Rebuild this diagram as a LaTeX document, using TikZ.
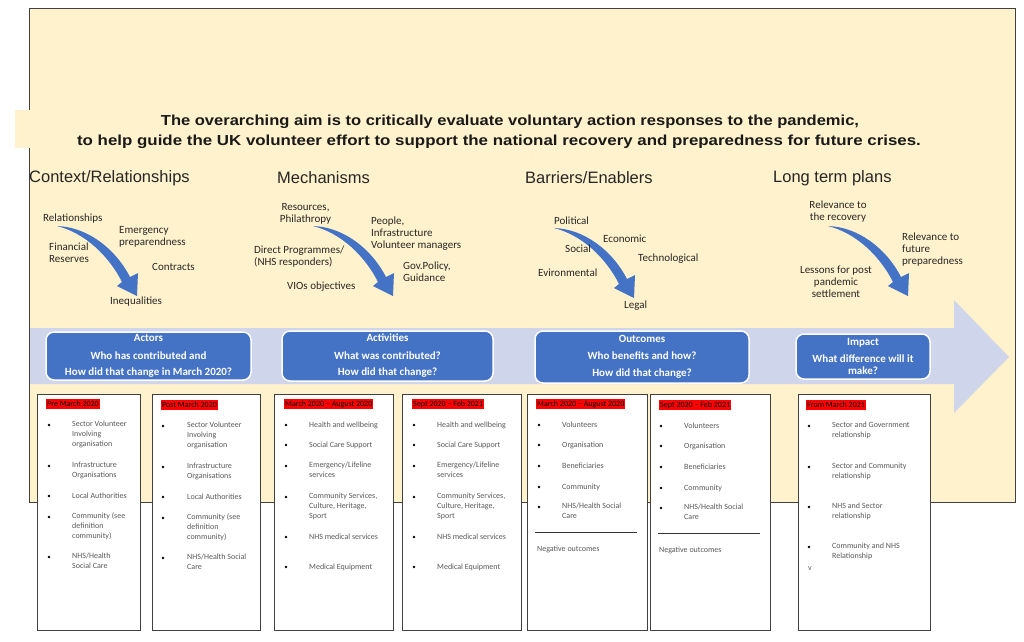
\documentclass[tikz,border=0pt]{standalone}
\usepackage{fontspec}
\usepackage{graphicx}
\setmainfont{Liberation Sans}
\newfontfamily\carl{Carlito}
\definecolor{cream}{HTML}{FFF2CC}
\definecolor{bandc}{HTML}{CFD5EA}
\definecolor{oblue}{HTML}{4472C4}
\definecolor{framec}{HTML}{404040}
\definecolor{labcol}{HTML}{262626}
\definecolor{itemc}{HTML}{595959}
\newcommand\curvarr[2]{\fill[arrb,shift={(#1,#2)}] (0,0) .. controls (30,1) and (58,22) .. (73,51) -- (81,47) -- (80,70) -- (60,60) -- (65,56) .. controls (52,30) and (28,7) .. (0,0) -- cycle;}
\newcommand\bitem[5]{\node[bdot] (#1d) at (#2,#4) {}; \node[itm] (#1) at (#3,#4) {#5};}
\begin{document}
\begin{tikzpicture}[x=1pt,y=-1pt,
 lab/.style={anchor=north west, inner sep=0pt, align=left, yshift=4.9pt, font=\carl\fontsize{11}{12}\selectfont, text=labcol, execute at begin node=\strut},
 labctr/.style={lab, anchor=north, align=center},
 colhead/.style={anchor=west, inner sep=0pt, font=\fontsize{16.5}{19}\selectfont, text=labcol},
 ttl/.style={inner sep=0pt, font=\bfseries\fontsize{14.5}{17}\selectfont, text=black!90},
 bluebox/.style={draw=white, line width=1.5pt, fill=oblue, rounded corners=8pt, inner sep=0pt},
 boxtxt/.style={align=center, inner sep=0pt, text=white, font=\carl\bfseries\fontsize{11}{12}\selectfont},
 wbox/.style={draw=framec, line width=1pt, fill=white, anchor=north west, inner sep=0pt},
 hl/.style={fill=red, anchor=west, inner xsep=1pt, inner ysep=0pt, minimum height=10pt, font=\carl\fontsize{8}{10}\selectfont},
 bdot/.style={circle, fill=black, inner sep=0pt, minimum size=2.6pt},
 itm/.style={anchor=north west, inner sep=0pt, align=left, yshift=4.5pt, font=\carl\fontsize{8}{10}\selectfont, text=itemc, execute at begin node=\strut},
 arrb/.style={fill=oblue},
 rulec/.style={draw=black!80, line width=0.8pt}
]
\useasboundingbox (0,0) rectangle (1024,641);
\fill[white] (0,0) rectangle (1024,641);
% background panel
\draw[draw=framec, line width=1pt, fill=cream] (29,8) rectangle (1015,502);
\fill[cream] (15,110) rectangle (1000,148);
% title
\node[ttl] (t1) at (510,122) {\scalebox{1.14}[1]{The overarching aim is to critically evaluate voluntary action responses to the pandemic,}};
\node[ttl] (t2) at (499,142) {\scalebox{1.165}[1]{to help guide the UK volunteer effort to support the national recovery and preparedness for future crises.}};
% column headings
\node[colhead] (c1) at (29,178) {Context/Relationships};
\node[colhead] (c2) at (277,178) {Mechanisms};
\node[colhead] (c3) at (525,178) {Barriers/Enablers};
\node[colhead] (c4) at (773,178) {Long term plans};
% curved arrows
\curvarr{57}{226}
\curvarr{313}{226}
\curvarr{554}{228}
\curvarr{828}{226}
% labels column 1
\node[lab] (l11) at (43,218) {Relationships};
\node[lab] (l12) at (119,231) {Emergency\\preparendness};
\node[lab] (l13) at (49,248) {Financial\\Reserves};
\node[lab] (l14) at (152,267) {Contracts};
\node[lab] (l15) at (110,301) {Inequalities};
% labels column 2
\node[labctr] (l21) at (305.5,208) {Resources,\\Philathropy};
\node[lab] (l22) at (371,222) {People,\\Infrastructure\\Volunteer managers};
\node[lab] (l23) at (254,251) {Direct Programmes/\\(NHS responders)};
\node[lab] (l24) at (403,267) {Gov.Policy,\\Guidance};
\node[lab] (l25) at (287,286) {VIOs objectives};
% labels column 3
\node[lab] (l31) at (554,221) {Political};
\node[lab] (l32) at (603,239) {Economic};
\node[lab] (l33) at (565,249) {Social};
\node[lab] (l34) at (638,258) {Technological};
\node[lab] (l35) at (538,273) {Evironmental};
\node[lab] (l36) at (624,305) {Legal};
% labels column 4
\node[labctr] (l41) at (838,206) {Relevance to\\the recovery};
\node[lab] (l42) at (902,238) {Relevance to\\future\\preparedness};
\node[labctr] (l43) at (836,271) {Lessons for post\\pandemic\\settlement};
% band arrow
\fill[bandc] (30,328) -- (954,328) -- (954,300) -- (1009,357) -- (954,413) -- (954,384) -- (30,384) -- cycle;
% blue boxes
\node[bluebox, minimum width=205pt, minimum height=48pt] (bx1) at (148.5,356) {};
\node[boxtxt] (bt1) at (bx1.center) {Actors\\[6pt]Who has contributed and\\[4pt]How did that change in March 2020?};
\node[bluebox, minimum width=211pt, minimum height=50pt] (bx2) at (387.5,356) {};
\node[boxtxt] (bt2) at (bx2.center) {Activities\\[6pt]What was contributed?\\[4pt]How did that change?};
\node[bluebox, minimum width=214pt, minimum height=52pt] (bx3) at (642,357) {};
\node[boxtxt] (bt3) at (bx3.center) {Outcomes\\[5pt]Who benefits and how?\\[5pt]How did that change?};
\node[bluebox, minimum width=134pt, minimum height=45pt] (bx4) at (863,356.5) {};
\node[boxtxt] (bt4) at (bx4.center) {Impact\\[5pt]What difference will it\\make?};
% lower boxes
\node[wbox, minimum width=103pt, minimum height=236pt] (b1) at (37,394) {};
\node[wbox, minimum width=108pt, minimum height=236pt] (b2) at (152,394) {};
\node[wbox, minimum width=119pt, minimum height=236pt] (b3) at (274,394) {};
\node[wbox, minimum width=119pt, minimum height=236pt] (b4) at (402,394) {};
\node[wbox, minimum width=120pt, minimum height=236pt] (b5) at (527,394) {};
\node[wbox, minimum width=120pt, minimum height=236pt] (b6) at (650,394) {};
\node[wbox, minimum width=132pt, minimum height=236pt] (b7) at (798,394) {};
% box 1
\node[hl] (h1) at (46,404) {Pre March 2020};
\bitem{a1}{49}{72}{425}{Sector Volunteer\\Involving\\organisation}
\bitem{a2}{49}{72}{466}{Infrastructure\\Organisations}
\bitem{a3}{49}{72}{496}{Local Authorities}
\bitem{a4}{49}{72}{517}{Community (see\\definition\\community)}
\bitem{a5}{49}{72}{557}{NHS/Health\\Social Care}
% box 2
\node[hl] (h2) at (161,405) {Post March 2020};
\bitem{p1}{163}{187}{426}{Sector Volunteer\\Involving\\organisation}
\bitem{p2}{163}{187}{467}{Infrastructure\\Organisations}
\bitem{p3}{163}{187}{497}{Local Authorities}
\bitem{p4}{163}{187}{518}{Community (see\\definition\\community)}
\bitem{p5}{163}{187}{558}{NHS/Health Social\\Care}
% box 3
\node[hl] (h3) at (284,404) {March 2020 – August 2020};
\bitem{m1}{286}{309}{425}{Health and wellbeing}
\bitem{m2}{286}{309}{445}{Social Care Support}
\bitem{m3}{286}{309}{466}{Emergency/Lifeline\\services}
\bitem{m4}{286}{309}{497}{Community Services,\\Culture, Heritage,\\Sport}
\bitem{m5}{286}{309}{537}{NHS medical services}
\bitem{m6}{286}{309}{567}{Medical Equipment}
% box 4
\node[hl] (h4) at (412,404) {Sept 2020 – Feb 2021};
\bitem{s1}{414}{437}{425}{Health and wellbeing}
\bitem{s2}{414}{437}{445}{Social Care Support}
\bitem{s3}{414}{437}{466}{Emergency/Lifeline\\services}
\bitem{s4}{414}{437}{497}{Community Services,\\Culture, Heritage,\\Sport}
\bitem{s5}{414}{437}{537}{NHS medical services}
\bitem{s6}{414}{437}{567}{Medical Equipment}
% box 5
\node[hl] (h5) at (536,404) {March 2020 – August 2020};
\bitem{o1}{539}{562}{425}{Volunteers}
\bitem{o2}{539}{562}{445}{Organisation}
\bitem{o3}{539}{562}{466}{Beneficiaries}
\bitem{o4}{539}{562}{487}{Community}
\bitem{o5}{539}{562}{507}{NHS/Health Social\\Care}
\draw[rulec] (535,532) -- (637,532);
\node[itm] (n5) at (537,549) {Negative outcomes};
% box 6
\node[hl] (h6) at (659,405) {Sept 2020 – Feb 2021};
\bitem{q1}{661}{684}{426}{Volunteers}
\bitem{q2}{661}{684}{446}{Organisation}
\bitem{q3}{661}{684}{467}{Beneficiaries}
\bitem{q4}{661}{684}{488}{Community}
\bitem{q5}{661}{684}{508}{NHS/Health Social\\Care}
\draw[rulec] (658,533) -- (760,533);
\node[itm] (n6) at (659,550) {Negative outcomes};
% box 7
\node[hl] (h7) at (806,405) {From March 2021};
\bitem{r1}{809}{832}{426}{Sector and Government\\relationship}
\bitem{r2}{809}{832}{467}{Sector and Community\\relationship}
\bitem{r3}{809}{832}{507}{NHS and Sector\\relationship}
\bitem{r4}{809}{832}{547}{Community and NHS\\Relationship}
\node[itm] (rv) at (808,568) {v};
\end{tikzpicture}
\end{document}
